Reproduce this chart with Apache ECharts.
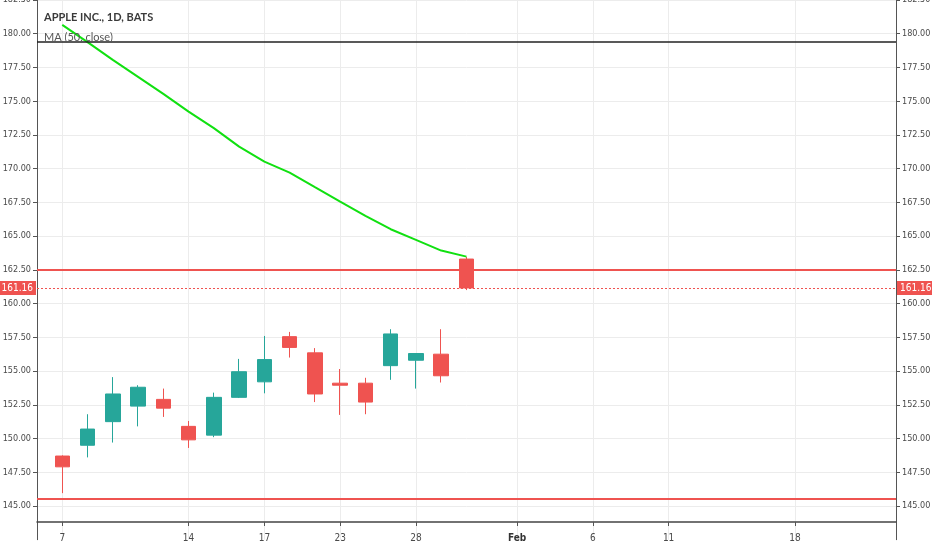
<!DOCTYPE html>
<html><head><meta charset="utf-8">
<script src="https://cdn.jsdelivr.net/npm/echarts@6/dist/echarts.min.js"></script>
<style>html,body{margin:0;padding:0;background:#fff}#c{width:932px;height:550px}</style>
</head><body><div id="c"></div>
<script>
const dates = ['2019-01-04','2019-01-07','2019-01-08','2019-01-09','2019-01-10','2019-01-11',
  '2019-01-14','2019-01-15','2019-01-16','2019-01-17','2019-01-18','2019-01-22','2019-01-23',
  '2019-01-24','2019-01-25','2019-01-28','2019-01-29','2019-01-30','2019-01-31','2019-02-01',
  '2019-02-04','2019-02-05','2019-02-06','2019-02-07','2019-02-08','2019-02-11','2019-02-12',
  '2019-02-13','2019-02-14','2019-02-15','2019-02-18','2019-02-19','2019-02-20','2019-02-21','2019-02-22'];
const tickDates = ['2019-01-07','2019-01-14','2019-01-17','2019-01-23','2019-01-28','2019-02-01','2019-02-06','2019-02-11','2019-02-18'];
const candleDates = ['2019-01-07','2019-01-08','2019-01-09','2019-01-10','2019-01-11','2019-01-14','2019-01-15',
  '2019-01-16','2019-01-17','2019-01-18','2019-01-22','2019-01-23','2019-01-24','2019-01-25','2019-01-28','2019-01-29','2019-01-30'];
const openV  = [148.70,149.50,151.25,152.40,152.90,150.90,150.25,153.05,154.20,157.55,156.35,154.10,154.10,155.40,155.80,156.25,163.30];
const closeV = [147.90,150.70,153.30,153.80,152.25,149.90,153.05,154.95,155.85,156.75,153.30,153.95,152.70,157.75,156.30,154.65,161.16];
const lowV   = [145.95,148.60,149.70,150.90,151.60,149.30,150.10,153.00,153.35,156.00,152.70,151.75,151.80,154.35,153.70,154.15,161.00];
const highV  = [148.75,151.80,154.55,153.95,153.70,151.30,153.40,155.90,157.60,157.90,156.70,155.15,154.50,158.10,156.30,158.10,163.45];
const ma50   = [180.66,179.38,178.06,176.80,175.54,174.23,173.00,171.63,170.52,169.71,168.63,167.56,166.50,165.51,164.72,163.93,163.48];
const blackLevel = 179.40;
const redLevels = [162.50, 145.50];
const lastPrice = 161.16;
const yMin = 142.5, yMax = 182.5, yStep = 2.5;
const titleText = 'APPLE INC., 1D, BATS';
const studyText = 'MA (50, close)';

const FONT = "'Liberation Sans Narrow', 'DejaVu Sans Condensed', 'Noto Sans', sans-serif";
const TFONT = "Lato, 'DejaVu Sans Condensed', sans-serif";
const UP = '#26a69a', DOWN = '#ef5350';
const monthNames = ['Jan','Feb','Mar','Apr','May','Jun','Jul','Aug','Sep','Oct','Nov','Dec'];

const candleData = dates.map(d => {
  const i = candleDates.indexOf(d);
  return i < 0 ? '-' : [openV[i], closeV[i], lowV[i], highV[i]];
});
const maData = dates.map(d => {
  const i = candleDates.indexOf(d);
  return i < 0 ? '-' : ma50[i];
});
const isTick = (idx) => tickDates.indexOf(dates[idx]) >= 0;

const nLines = Math.round((yMax - yMin) / yStep) + 1;
const splitColors = [];
for (let i = 0; i < nLines; i++) splitColors.push(i === 0 ? 'rgba(0,0,0,0)' : '#ececec');

const yAxisBase = {
  type: 'value', min: yMin, max: yMax, interval: yStep, scale: true,
  axisLine: { show: true, lineStyle: { color: '#555', width: 1 } },
  axisTick: { show: true, length: 4, lineStyle: { color: '#555' } },
  axisLabel: { color: '#4a4a4a', fontSize: 9, fontFamily: FONT, margin: 6, showMinLabel: false,
    formatter: v => v.toFixed(2) }
};

const chart = echarts.init(document.getElementById('c'));
chart.setOption({
  animation: false,
  backgroundColor: '#ffffff',
  title: {
    left: 44, top: 12, padding: 0, text: titleText, subtext: studyText, itemGap: 9,
    textStyle: { fontFamily: TFONT, fontSize: 11, fontWeight: 'bold', color: '#3a3a3a' },
    subtextStyle: { fontFamily: TFONT, fontSize: 11, color: '#555' }
  },
  grid: { left: 37, right: 36, top: 0, bottom: 10.3, containLabel: false, outerBoundsMode: 'none' },
  xAxis: {
    type: 'category', data: dates, boundaryGap: false, offset: -17.7,
    axisLine: { show: true, lineStyle: { color: '#444', width: 1.5 } },
    axisTick: { show: true, length: 4, interval: (idx) => isTick(idx), lineStyle: { color: '#555' } },
    splitLine: { show: true, interval: (idx) => isTick(idx), lineStyle: { color: '#ececec' } },
    axisLabel: {
      interval: (idx) => isTick(idx), margin: 11, fontFamily: FONT, fontSize: 10, color: '#4a4a4a',
      formatter: (val) => {
        const p = val.split('-');
        const day = parseInt(p[2], 10);
        return day === 1 ? '{m|' + monthNames[parseInt(p[1], 10) - 1] + '}' : String(day);
      },
      rich: { m: { fontFamily: FONT, fontSize: 10, fontWeight: 'bold', color: '#333' } }
    }
  },
  yAxis: [
    Object.assign({}, yAxisBase, { position: 'left',
      splitLine: { show: true, lineStyle: { color: splitColors, width: 1 } } }),
    Object.assign({}, yAxisBase, { position: 'right', splitLine: { show: false } })
  ],
  series: [
    {
      type: 'candlestick', data: candleData, barWidth: 15, yAxisIndex: 0,
      itemStyle: { color: UP, color0: DOWN, borderColor: UP, borderColor0: DOWN, borderWidth: 1 },
      markLine: {
        silent: true, symbol: ['none', 'none'], animation: false,
        data: [
          { yAxis: blackLevel, lineStyle: { color: '#222', width: 1.5, type: 'solid' }, label: { show: false } },
          { yAxis: redLevels[0], lineStyle: { color: DOWN, width: 2, type: 'solid' }, label: { show: false } },
          { yAxis: redLevels[1], lineStyle: { color: DOWN, width: 2, type: 'solid' }, label: { show: false } },
          { yAxis: lastPrice, lineStyle: { color: DOWN, width: 1, type: [2, 2] },
            label: { show: true, position: 'start', distance: 1, formatter: lastPrice.toFixed(2),
              backgroundColor: DOWN, color: '#fff', fontFamily: FONT, fontSize: 10, padding: [2, 3, 2, 3] } },
          { yAxis: lastPrice, lineStyle: { color: DOWN, width: 1, type: [2, 2] },
            label: { show: true, position: 'end', distance: 1, formatter: lastPrice.toFixed(2),
              backgroundColor: DOWN, color: '#fff', fontFamily: FONT, fontSize: 10, padding: [2, 3, 2, 3] } }
        ]
      }
    },
    {
      type: 'line', data: maData, yAxisIndex: 0, symbol: 'none', smooth: false,
      lineStyle: { color: '#11e011', width: 2 }, z: 3
    }
  ]
});
</script>
</body></html>
